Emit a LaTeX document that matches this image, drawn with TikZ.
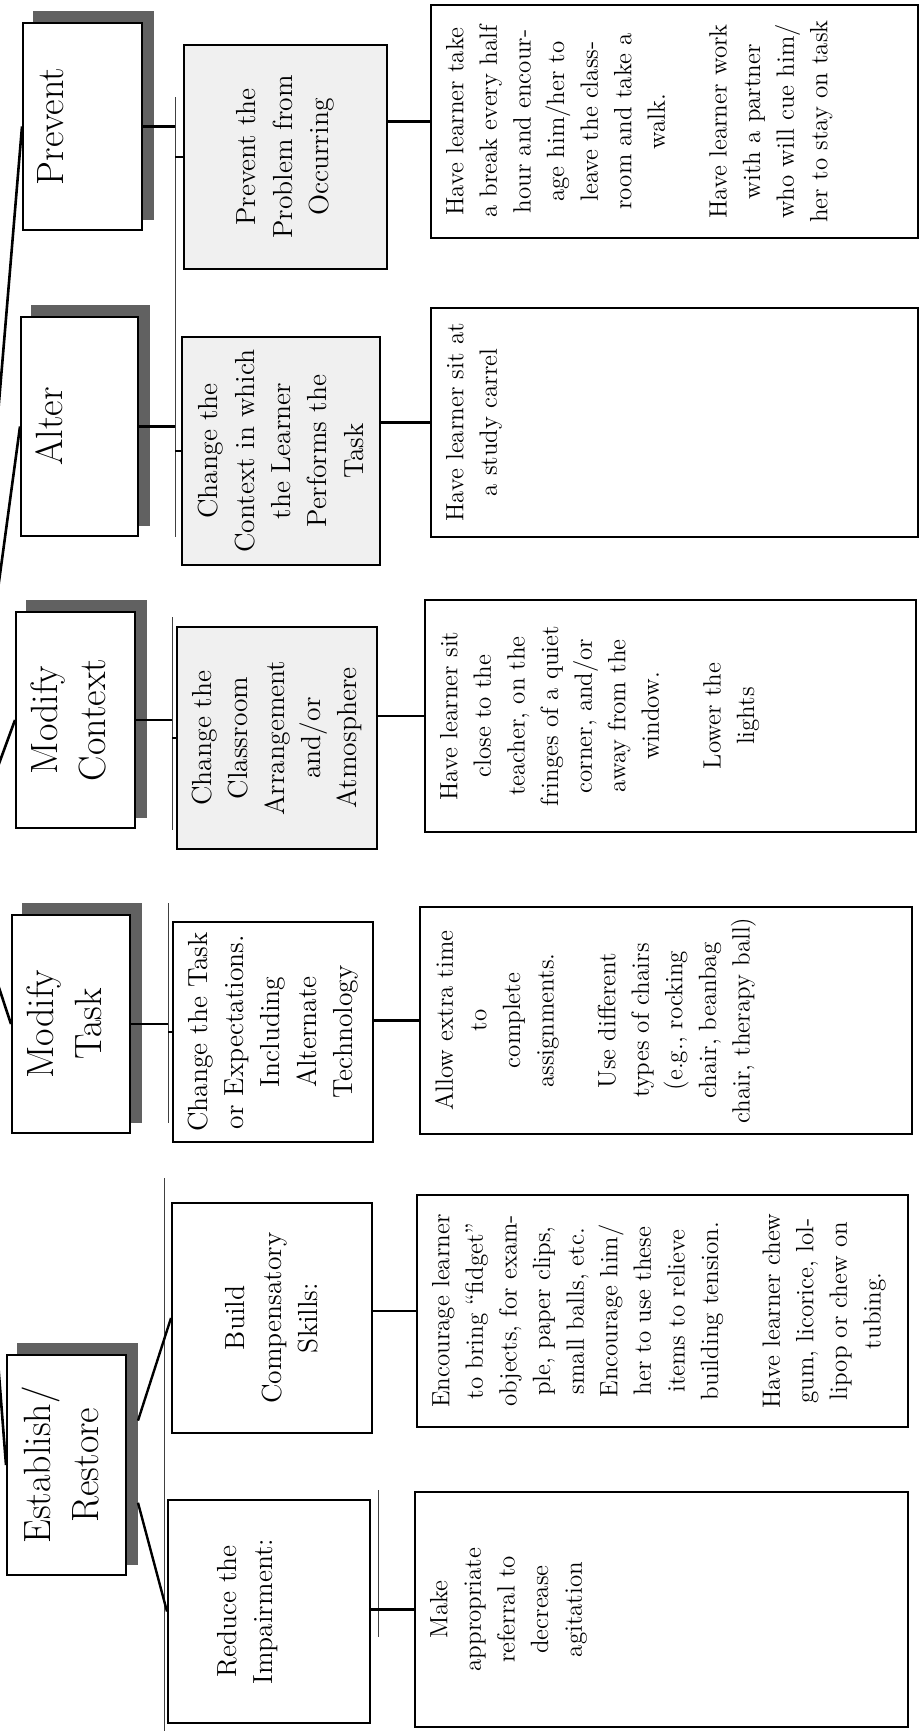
\documentclass[tikz,border=0pt]{standalone}
\usepackage{fontspec}
\usepackage{tikz}
\usetikzlibrary{calc,backgrounds,positioning}

% text block of a card: #2 = length along the text, #3 = depth across it
\newcommand{\cardtext}[4][t]{\parbox[c][\dimexpr#3-15pt\relax][#1]{\dimexpr#2-6pt\relax}{\centering #4}}

\begin{document}
\begin{tikzpicture}[x=0.5pt, y=-0.5pt,
    card/.style={draw, line width=1pt, rotate=90, inner xsep=3pt, inner ysep=7.5pt},
    headcard/.style={card, fill=white, font=\fontsize{19}{24}\selectfont},
    goalcard/.style={card, font=\fontsize{13.8}{18.2}\selectfont},
    ideacard/.style={card, font=\fontsize{12.5}{16.8}\selectfont},
    link/.style={line width=1.2pt},
    guide/.style={line width=0.5pt, black!75}]
    \useasboundingbox (0,0) rectangle (920,1731);
    \clip (0,0) rectangle (920,1731);

    % Strategy headings
    \node[headcard] (prevtop) at (82.5,126.5) {\cardtext{103.5pt}{59.5pt}{Prevent}};
    \node[headcard] (alttop) at (79.5,426.5) {\cardtext{109.5pt}{58.5pt}{Alter}};
    \node[headcard] (contop) at (75.5,720) {\cardtext{108pt}{59.5pt}{Modify\\Context}};
    \node[headcard] (tasktop) at (71,1024) {\cardtext{109pt}{59pt}{Modify\\Task}};
    \node[headcard] (esttop) at (66.5,1465) {\cardtext{110pt}{59.5pt}{Establish/\\Restore}};

    % Goals
    \node[goalcard, fill=black!6] (prevmid) at (285.5,157) {\cardtext[c]{112pt}{101.5pt}{Prevent the\\Problem from\\Occurring}};
    \node[goalcard, fill=black!6] (altmid) at (281,451) {\cardtext[c]{114pt}{99pt}{Change the\\Context in which\\the Learner\\Performs the\\Task}};
    \node[goalcard, fill=black!6] (conmid) at (277,738) {\cardtext[c]{111pt}{100pt}{Change the\\Classroom\\Arrangement\\and/or\\Atmosphere}};
    \node[goalcard] (taskmid) at (273,1032) {\cardtext[c]{110pt}{100pt}{Change the Task\\or Expectations.\\Including\\Alternate\\Technology}};
    \node[goalcard] (buildmid) at (272,1318) {\cardtext[c]{115pt}{100pt}{Build\\Compensatory\\Skills:}};
    \node[goalcard] (redmid) at (269,1611.5) {\cardtext{111.5pt}{101pt}{\vspace*{17pt}Reduce the\\Impairment:}};

    % Examples
    \node[ideacard] (prevright) at (674.5,121.5) {\cardtext{116.5pt}{243.5pt}{Have learner take\\a break every half\\hour and encour-\\age him/her to\\leave the class-\\room and take a\\walk.\\[14pt]Have learner work\\with a partner\\who will cue him/\\her to stay on task}};
    \node[ideacard] (altright) at (674.5,422.5) {\cardtext{114.5pt}{243.5pt}{Have learner sit at\\a study carrel}};
    \node[ideacard] (conright) at (670.5,716) {\cardtext{116pt}{245.5pt}{Have learner sit\\close to the\\teacher, on the\\fringes of a quiet\\corner, and/or\\away from the\\window.\\[14pt]Lower the\\lights}};
    \node[ideacard] (taskright) at (666,1020.5) {\cardtext{113.5pt}{246pt}{Allow extra time\\to\\complete\\assignments.\\[14pt]Use different\\types of chairs\\(e.g., rocking\\chair, beanbag\\chair, therapy ball)}};
    \node[ideacard] (buildright) at (662.5,1311) {\cardtext{116pt}{245.5pt}{Encourage learner\\to bring ``fidget''\\objects, for exam-\\ple, paper clips,\\small balls, etc.\\Encourage him/\\her to use these\\items to relieve\\building tension.\\[14pt]Have learner chew\\gum, licorice, lol-\\lipop or chew on\\tubing.}};
    \node[ideacard] (redright) at (661.5,1609.5) {\cardtext{117.5pt}{246.5pt}{Make\\appropriate\\referral to\\decrease\\agitation}};

    % Shadows of the headings
    \begin{scope}[on background layer]
        \fill[white] (0,0) rectangle (920,1731);
        \fill[black!62] ($(prevtop.south west)+(11,-11)$) rectangle ($(prevtop.north east)+(11,-11)$);
        \fill[black!62] ($(alttop.south west)+(11,-11)$) rectangle ($(alttop.north east)+(11,-11)$);
        \fill[black!62] ($(contop.south west)+(11,-11)$) rectangle ($(contop.north east)+(11,-11)$);
        \fill[black!62] ($(tasktop.south west)+(11,-11)$) rectangle ($(tasktop.north east)+(11,-11)$);
        \fill[black!62] ($(esttop.south west)+(11,-11)$) rectangle ($(esttop.north east)+(11,-11)$);
    \end{scope}

    % Fan from the root off the page
    \coordinate (root) at (-40,870);
    \draw[link, line width=1.3pt] (root) -- (prevtop.north);
    \draw[link, line width=1.3pt] (root) -- (alttop.north);
    \draw[link, line width=1.3pt] (root) -- (contop.north);
    \draw[link, line width=1.3pt] (root) -- (tasktop.north);
    \draw[link, line width=1.3pt] (root) -- (esttop.north);

    % Thin guide bars
    \coordinate (barA1) at (175,97);   \coordinate (barA2) at (175,537);
    \coordinate (barB1) at (172,617);  \coordinate (barB2) at (172,830);
    \coordinate (barC1) at (168,903);  \coordinate (barC2) at (168,1123);
    \coordinate (barD1) at (164,1178); \coordinate (barD2) at (164,1731);
    \coordinate (barE1) at (378,1490); \coordinate (barE2) at (378,1637);
    \draw[guide] (barA1) -- (barA2);
    \draw[guide] (barB1) -- (barB2);
    \draw[guide] (barC1) -- (barC2);
    \draw[guide] (barD1) -- (barD2);
    \draw[guide] (barE1) -- (barE2);

    % Headings to goals
    \draw[link] (prevtop.south) -- (prevtop.south -| barA1);
    \draw[link] (prevmid.north -| barA1) -- (prevmid.north);
    \draw[link] (alttop.south) -- (alttop.south -| barA1);
    \draw[link] (altmid.north -| barA1) -- (altmid.north);
    \draw[link] (contop.south) -- (contop.south -| barB1);
    \draw[link] (conmid.north -| barB1) -- (conmid.north);
    \draw[link] (tasktop.south) -- (tasktop.south -| barC1);
    \draw[link] (taskmid.north -| barC1) -- (taskmid.north);
    \draw[link] ($(esttop.south east)!0.3!(esttop.south west)+(11,0)$) -- (buildmid.north);
    \draw[link] ($(esttop.south east)!0.67!(esttop.south west)+(11,0)$) -- (redmid.north);

    % Goals to examples
    \draw[link] (prevright.north -| prevmid.south) -- (prevright.north);
    \draw[link] (altright.north -| altmid.south) -- (altright.north);
    \draw[link] (conright.north -| conmid.south) -- (conright.north);
    \draw[link] (taskright.north -| taskmid.south) -- (taskright.north);
    \draw[link] (buildright.north -| buildmid.south) -- (buildright.north);
    \draw[link] (redright.north -| redmid.south) -- (redright.north);
\end{tikzpicture}
\end{document}
